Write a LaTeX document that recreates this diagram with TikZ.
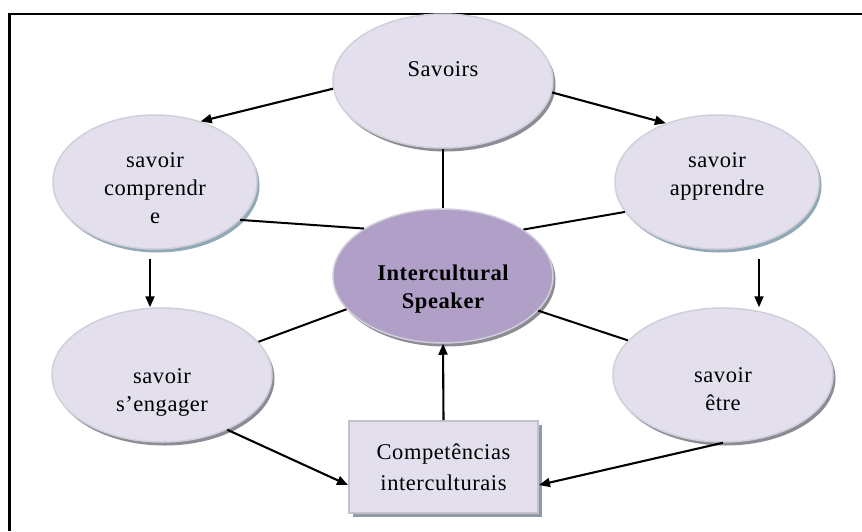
\documentclass[tikz,border=0pt]{standalone}
\usepackage{fontspec}
\setmainfont{Liberation Serif}[LetterSpace=2.5]
\usetikzlibrary{shapes.geometric,shadows,arrows.meta,calc}
\definecolor{lav}{HTML}{E3DFEC}
\definecolor{purp}{HTML}{B0A0C8}
\definecolor{rimc}{HTML}{D2CEDA}
\definecolor{shgray}{HTML}{8C8C94}
\definecolor{shblue}{HTML}{8FA9B6}
\definecolor{shbox}{HTML}{8E9AAB}
\definecolor{boxrim}{HTML}{C4C2C8}
\begin{document}
\begin{tikzpicture}[x=1pt,y=-1pt,
  oval/.style={ellipse, fill=lav, draw=rimc, line width=1.5pt, inner sep=0pt,
    minimum width=220pt, minimum height=134pt,
    general shadow={fill=#1, shadow xshift=2.5pt, shadow yshift=-3.5pt}},
  oval/.default=shgray,
  lbl/.style={font=\fontsize{22.5}{28}\selectfont, align=center, text=black, inner sep=0pt},
  boxnode/.style={rectangle, fill=lav, draw=boxrim, line width=2pt,
    minimum width=189pt, minimum height=92pt, align=center,
    font=\fontsize{22.5}{31}\selectfont,
    general shadow={fill=shbox, shadow xshift=4pt, shadow yshift=-4pt}},
  ln/.style={line width=2pt},
  arr/.style={line width=2.1pt, -{Triangle[length=11pt,width=9pt]}}]
\useasboundingbox (0,0) rectangle (862,531);
\fill[white] (0,0) rectangle (862,531);
\draw[line width=2.3pt] (9.5,531) -- (9.5,14) -- (862,14);

\node[oval, label={[lbl,yshift=11.5pt]center:Savoirs}] (sav) at (443,81) {};
\node[oval=shblue, minimum width=204pt,
  label={[lbl,yshift=-6.5pt]center:{savoir\\comprendr\\e}}] (comp) at (155,182) {};
\node[oval=shblue, minimum width=204pt,
  label={[lbl,yshift=5.5pt]center:{savoir\\apprendre}}] (appr) at (717,182) {};
\node[oval, fill=purp,
  label={[lbl,yshift=-13.5pt]center:{\bfseries Intercultural\\\bfseries Speaker}}] (inter) at (443,276) {};
\node[oval, label={[lbl,yshift=-17.5pt]center:{savoir\\s’engager}}] (eng) at (162,375) {};
\node[oval, label={[lbl,yshift=-14pt]center:{savoir\\être}}] (etre) at (723,375) {};
\node[boxnode] (cmp) at (443.5,467) {Competências\\interculturais};

\draw[arr] (sav.184.8) -- (comp.53);
\draw[arr] (sav.354.3) -- (appr.131.9);
\draw[ln] (sav.south) -- (inter.north);
\draw[ln] (comp.336) -- (inter.149.9);
\draw[ln] (appr.198.4) -- (inter.30.9);
\draw[arr] ([xshift=-5pt,yshift=-9pt]comp.south) -- ([xshift=-5pt]comp.south |- eng.north);
\draw[arr] ([xshift=42pt,yshift=-9pt]appr.south) -- ([xshift=42pt]appr.south |- etre.north);
\draw[ln] (eng.19.5) -- (inter.199.9);
\draw[ln] (etre.160.5) -- (inter.340);
\draw[arr] (eng.320.2) -- ([yshift=-18pt]cmp.west);
\draw[arr] (etre.south) -- ([yshift=-18pt]cmp.east);
\draw[arr] (cmp.north) -- (inter.south);
\end{tikzpicture}
\end{document}
